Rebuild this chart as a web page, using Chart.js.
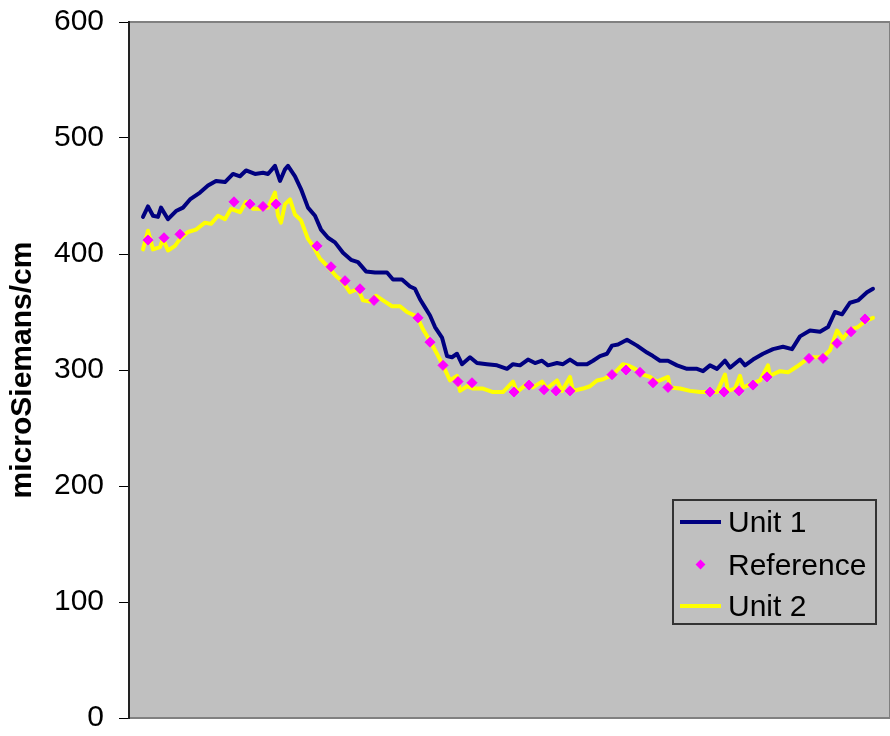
<!DOCTYPE html>
<html>
<head>
<meta charset="utf-8">
<script src="https://cdn.jsdelivr.net/npm/chart.js@4.4.1/dist/chart.umd.min.js"></script>
<style>
  html, body { margin: 0; padding: 0; background: #ffffff; }
  #wrap { position: relative; width: 890px; height: 736px; overflow: hidden; }
  #chart { position: absolute; left: 0; top: 0; }
  #legend {
    position: absolute; left: 672px; top: 499px; width: 205px; height: 126px;
    box-sizing: border-box; border: 2px solid #333333;
    font-family: "Liberation Sans", Arial, sans-serif; font-size: 30px; color: #000000;
  }
  #legend .row { position: absolute; left: 0; width: 100%; height: 42px; line-height: 42px; white-space: nowrap; }
  #legend .line { position: absolute; left: 6px; top: 19px; width: 41px; height: 4px; }
  #legend .diamond { position: absolute; left: 23px; top: 17px; width: 7px; height: 7px; transform: rotate(45deg); }
  #legend .text { position: absolute; left: 54px; top: 0; }
</style>
</head>
<body>
<div id="wrap">
  <canvas id="chart" width="890" height="736"></canvas>
  <div id="legend"></div>
</div>
<script>
// Elapsed time index for each reading (same time scale for every series)
const unit1Time = [0,5,10,15,18,25,33,40,47,57,65,73,82,90,97,103,112,120,125,132,137,142,145,152,158,165,172,178,185,192,200,208,215,223,232,244,250,259,267,272,277,282,287,292,299,304,309,314,319,327,334,344,354,364,370,377,385,392,399,405,414,420,427,434,444,450,457,464,469,475,484,494,504,510,517,525,534,544,554,560,567,574,582,587,597,602,610,620,630,640,649,657,667,677,685,692,699,707,715,724,730];
const unit1Values = [432,441,433,432,440,430,437,440,447,453,459,463,462,469,467,472,469,470,469,476,463,473,476,467,456,440,433,421,414,410,401,395,393,385,384,384,378,378,372,370,361,354,347,337,328,312,311,314,305,311,306,305,304,301,305,304,309,306,308,304,306,305,309,305,305,308,312,314,321,322,326,321,315,312,308,308,304,301,301,299,304,301,308,302,309,304,309,314,318,320,318,329,334,333,337,350,348,358,360,367,370];

const unit2Time = [0,5,10,17,20,25,32,37,45,53,62,68,75,82,88,97,103,110,118,125,132,135,138,142,147,152,158,165,170,177,185,193,200,207,215,220,227,233,240,249,257,264,274,280,287,294,300,307,314,317,324,330,340,350,360,370,374,384,390,399,404,414,419,427,430,440,447,454,460,470,480,485,492,500,507,514,525,527,537,547,557,567,574,582,585,592,597,600,609,617,625,627,637,645,654,662,670,680,687,694,700,707,715,722,730];
const unit2Values = [404,420,404,406,413,403,407,413,419,421,427,426,433,430,439,436,445,439,439,440,453,433,427,443,447,434,429,413,407,396,389,381,376,367,370,360,359,364,360,355,355,350,346,335,325,314,304,291,295,282,286,284,284,281,281,290,281,288,285,290,284,291,282,294,282,284,286,291,292,296,305,304,301,296,294,290,294,285,284,282,281,281,281,296,282,284,295,285,288,291,304,295,299,298,303,308,311,311,317,334,327,335,337,342,345];

const referenceTime = [5,21,37,91,107,120,133,174,188,202,217,231,275,287,300,315,329,371,386,401,413,427,469,483,497,510,525,567,581,596,610,624,666,680,694,708,722];
const referenceValues = [412,414,417,445,443,441,443,407,389,377,370,360,345,324,304,290,289,281,287,283,282,282,296,300,298,289,285,281,281,282,287,294,310,310,323,333,344];

const seriesLabels = ['Unit 1', 'Reference', 'Unit 2'];
const yTicks = { min: 0, max: 600, step: 100 };
const axisTitle = 'microSiemans/cm';

const FONT = '"Liberation Sans", Arial, sans-serif';
const toPoints = (xs, ys) => xs.map((x, i) => ({ x: x, y: ys[i] }));

const plotBg = {
  id: 'plotBg',
  beforeDraw(c) {
    const { ctx, chartArea: a } = c;
    ctx.save();
    ctx.fillStyle = '#c0c0c0';
    ctx.fillRect(a.left, a.top, a.right - a.left, a.bottom - a.top);
    ctx.strokeStyle = '#808080';
    ctx.lineWidth = 2;
    ctx.strokeRect(a.left, a.top, a.right - a.left, a.bottom - a.top);
    ctx.restore();
  }
};

const chart = new Chart(document.getElementById('chart'), {
  type: 'line',
  data: {
    datasets: [
      {
        label: seriesLabels[0],
        data: toPoints(unit1Time, unit1Values),
        borderColor: '#000080', backgroundColor: '#000080',
        borderWidth: 4, pointRadius: 0, tension: 0, fill: false,
        borderJoinStyle: 'round', borderCapStyle: 'round'
      },
      {
        label: seriesLabels[1],
        data: toPoints(referenceTime, referenceValues),
        showLine: false,
        pointStyle: 'rectRot', pointRadius: 5,
        pointBackgroundColor: '#ff00ff', pointBorderColor: '#ff00ff', pointBorderWidth: 1,
        borderColor: '#ff00ff', backgroundColor: '#ff00ff'
      },
      {
        label: seriesLabels[2],
        data: toPoints(unit2Time, unit2Values),
        borderColor: '#ffff00', backgroundColor: '#ffff00',
        borderWidth: 4, pointRadius: 0, tension: 0, fill: false,
        borderJoinStyle: 'round', borderCapStyle: 'round'
      }
    ]
  },
  options: {
    responsive: false,
    animation: false,
    devicePixelRatio: 1,
    layout: { autoPadding: false, padding: { top: 22, bottom: 18, left: 0, right: 0 } },
    plugins: { legend: { display: false }, tooltip: { enabled: false } },
    scales: {
      x: { type: 'linear', display: false, min: -14, max: 747 },
      y: {
        min: yTicks.min, max: yTicks.max,
        ticks: { stepSize: yTicks.step, color: '#000000', padding: 15, font: { family: FONT, size: 30 } },
        grid: { drawOnChartArea: false, drawTicks: true, tickLength: 10, color: '#000000', tickWidth: 1 },
        border: { display: true, color: '#222222', width: 2 },
        title: {
          display: true, text: axisTitle, color: '#000000',
          font: { family: FONT, size: 30, weight: 'bold' },
          padding: { top: 5, bottom: 0 }
        },
        afterFit(scale) {
          scale.width = 129;
          scale.paddingTop = 0;
          scale.paddingBottom = 0;
        }
      }
    }
  },
  plugins: [plotBg]
});

// HTML legend built from the chart's datasets
const legend = document.getElementById('legend');
chart.data.datasets.forEach((ds, i) => {
  const row = document.createElement('div');
  row.className = 'row';
  row.style.top = [0, 43, 84][i] + 'px';
  const mark = document.createElement('div');
  if (ds.showLine === false) {
    mark.className = 'diamond';
    mark.style.background = ds.pointBackgroundColor;
  } else {
    mark.className = 'line';
    mark.style.background = ds.borderColor;
  }
  const txt = document.createElement('span');
  txt.className = 'text';
  txt.textContent = ds.label;
  row.appendChild(mark);
  row.appendChild(txt);
  legend.appendChild(row);
});
</script>
</body>
</html>
